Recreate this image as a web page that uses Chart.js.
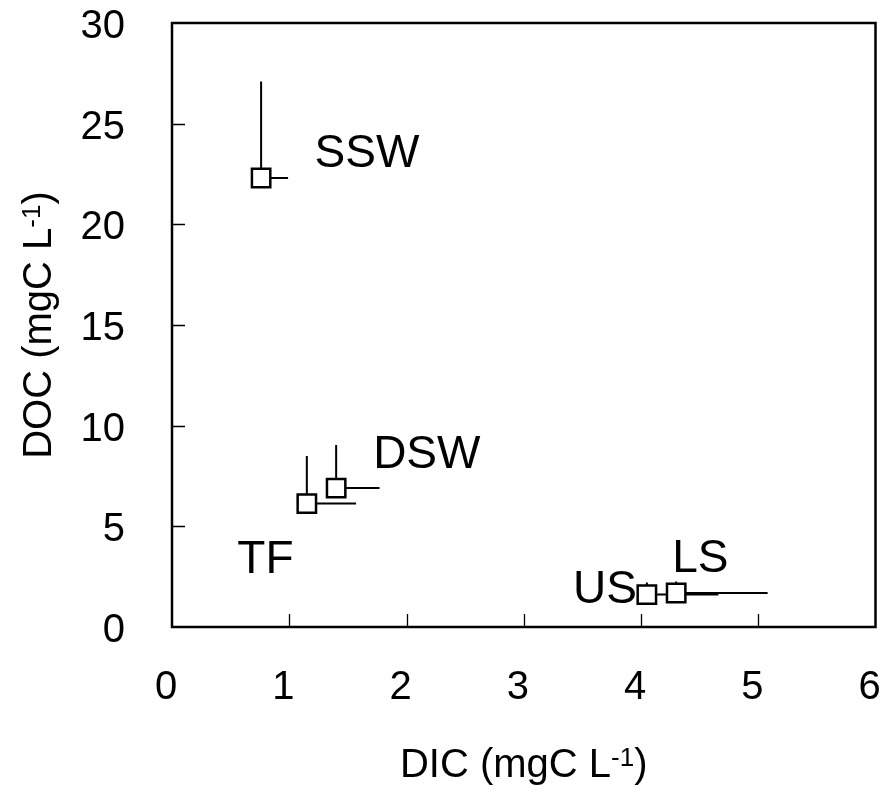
<!DOCTYPE html>
<html><head><meta charset="utf-8">
<script src="https://cdn.jsdelivr.net/npm/chart.js@4"></script>
<style>html,body{margin:0;padding:0;background:#fff}</style>
</head><body>
<canvas id="c" width="891" height="792"></canvas>
<script>
// ---- data ----
const sites  = ['SSW', 'DSW', 'TF', 'US', 'LS'];
const dic    = [0.76, 1.40, 1.15, 4.05, 4.30];   // mgC L-1
const doc    = [22.3, 6.90, 6.13, 1.61, 1.69];   // mgC L-1
const dicErr = [0.23, 0.37, 0.42, 0.61, 0.78];   // + error (right)
const docErr = [4.80, 2.14, 2.36, 0.60, 0.57];   // + error (up)
const xTicks = [0, 1, 2, 3, 4, 5, 6];
const yTicks = [0, 5, 10, 15, 20, 25, 30];

// ---- layout / style (not data) ----
const FONT = 'Arial, "Liberation Sans", sans-serif';
const labelLayout = {
  SSW: {dx: 53.5, dy: -11, align: 'left'},
  DSW: {dx: 37,   dy: -20, align: 'left'},
  TF:  {dx: -69.5, dy: 69.5, align: 'left'},
  US:  {dx: -10,  dy: 8.5, align: 'right'},
  LS:  {dx: -4,   dy: -21, align: 'left'}
};

const errorBars = {
  id: 'errorBars',
  beforeDatasetsDraw(chart) {
    const {ctx, scales: {x, y}} = chart;
    ctx.save();
    ctx.strokeStyle = '#000';
    ctx.lineWidth = 2;
    ctx.lineCap = 'butt';
    sites.forEach((s, i) => {
      const px = x.getPixelForValue(dic[i]);
      const py = y.getPixelForValue(doc[i]);
      const ex = x.getPixelForValue(dic[i] + dicErr[i]);
      const ey = y.getPixelForValue(doc[i] + docErr[i]);
      ctx.beginPath();
      ctx.moveTo(px, py); ctx.lineTo(ex, py);
      ctx.moveTo(px, py); ctx.lineTo(px, ey);
      ctx.stroke();
    });
    ctx.restore();
  }
};

const frame = {
  id: 'frame',
  beforeDatasetsDraw(chart) {
    const {ctx, chartArea: a, scales: {x, y}} = chart;
    ctx.save();
    ctx.strokeStyle = '#000';
    ctx.lineWidth = 1.3;
    ctx.beginPath();
    xTicks.slice(1, -1).forEach(v => {
      const p = Math.round(x.getPixelForValue(v)) + 0.5;
      ctx.moveTo(p, a.bottom); ctx.lineTo(p, a.bottom - 13);
    });
    yTicks.slice(1, -1).forEach(v => {
      const p = Math.round(y.getPixelForValue(v)) + 0.5;
      ctx.moveTo(a.left, p); ctx.lineTo(a.left + 13, p);
    });
    ctx.stroke();
    ctx.lineWidth = 2.5;
    ctx.strokeRect(a.left, a.top, a.right - a.left, a.bottom - a.top);
    ctx.restore();
  }
};

function drawSupTitle(ctx, main, sup, tail, cx, baseline) {
  ctx.font = '40px ' + FONT;
  const w1 = ctx.measureText(main).width;
  const w3 = ctx.measureText(tail).width;
  ctx.font = '26px ' + FONT;
  const w2 = ctx.measureText(sup).width;
  let xx = cx - (w1 + w2 + w3) / 2;
  ctx.textAlign = 'left';
  ctx.textBaseline = 'alphabetic';
  ctx.font = '40px ' + FONT;
  ctx.fillText(main, xx, baseline); xx += w1;
  ctx.font = '26px ' + FONT;
  ctx.fillText(sup, xx, baseline - 11); xx += w2;
  ctx.font = '40px ' + FONT;
  ctx.fillText(tail, xx, baseline);
}

const texts = {
  id: 'texts',
  afterDatasetsDraw(chart) {
    const {ctx, chartArea: a, scales: {x, y}} = chart;
    ctx.save();
    ctx.fillStyle = '#000';
    // point labels
    ctx.font = '46px ' + FONT;
    ctx.textBaseline = 'alphabetic';
    sites.forEach((s, i) => {
      const L = labelLayout[s];
      ctx.textAlign = L.align;
      ctx.fillText(s, x.getPixelForValue(dic[i]) + L.dx, y.getPixelForValue(doc[i]) + L.dy);
    });
    // axis titles
    drawSupTitle(ctx, 'DIC (mgC L', '-1', ')', (a.left + a.right) / 2, 777);
    ctx.save();
    ctx.translate(51, (a.top + a.bottom) / 2);
    ctx.rotate(-Math.PI / 2);
    drawSupTitle(ctx, 'DOC (mgC L', '-1', ')', 0, 0);
    ctx.restore();
    ctx.restore();
  }
};

new Chart(document.getElementById('c'), {
  type: 'scatter',
  data: {
    datasets: [{
      label: 'DOC vs DIC',
      data: sites.map((s, i) => ({x: dic[i], y: doc[i]})),
      pointStyle: 'rect',
      pointRadius: 13,
      pointHoverRadius: 13,
      pointBackgroundColor: '#fff',
      pointBorderColor: '#000',
      pointBorderWidth: 2.5,
      showLine: false
    }]
  },
  options: {
    responsive: false,
    animation: false,
    events: [],
    layout: {padding: {left: 0, top: 23, right: 9, bottom: 0}},
    plugins: {legend: {display: false}, tooltip: {enabled: false}},
    scales: {
      x: {
        type: 'linear', min: 0, max: 6,
        grid: {display: false, drawTicks: false},
        border: {display: false},
        ticks: {
          stepSize: 1, color: '#000', padding: 37, labelOffset: -6,
          font: {family: FONT, size: 40},
          callback: v => xTicks.includes(v) ? String(v) : ''
        },
        afterFit: s => { s.height = 165; s.paddingLeft = 0; s.paddingRight = 0; }
      },
      y: {
        type: 'linear', min: 0, max: 30,
        grid: {display: false, drawTicks: false},
        border: {display: false},
        ticks: {
          stepSize: 5, color: '#000', padding: 47, labelOffset: 4,
          font: {family: FONT, size: 40},
          callback: v => yTicks.includes(v) ? String(v) : ''
        },
        afterFit: s => { s.width = 172; s.paddingTop = 0; s.paddingBottom = 0; }
      }
    }
  },
  plugins: [frame, errorBars, texts]
});
</script>
</body></html>
